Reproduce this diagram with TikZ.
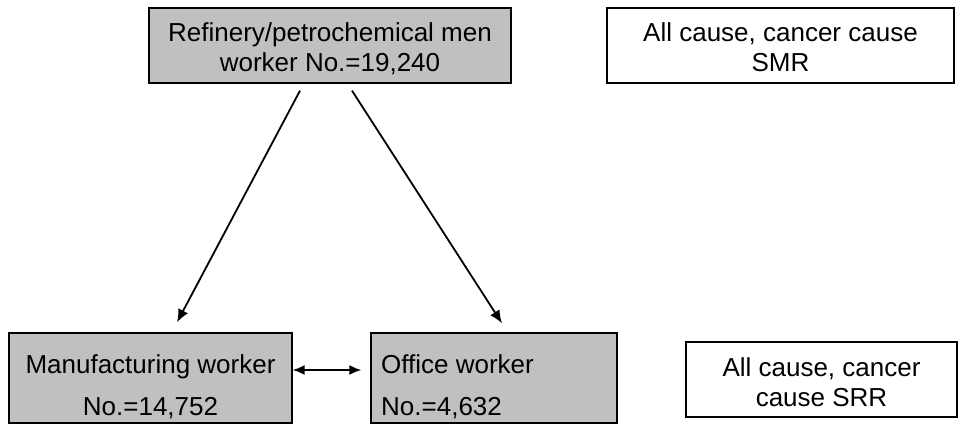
\documentclass[tikz,border=0pt]{standalone}
\usepackage{fontspec}
\setmainfont{Liberation Sans}
\usetikzlibrary{arrows.meta}
\definecolor{boxgrey}{HTML}{C0C0C0}
\begin{document}
\begin{tikzpicture}[x=1pt,y=-1pt,
  box/.style={draw=black,line width=1.3pt,rectangle,inner sep=0pt},
  greybox/.style={box,fill=boxgrey},
  txt/.style={inner sep=0pt,anchor=base,font=\fontsize{26}{30}\selectfont},
  ltxt/.style={txt,anchor=base west},
  arr/.style={line width=1.8pt,-{Latex[length=13pt,width=11pt]}},
  darr/.style={line width=1.8pt,{Latex[length=12pt,width=10pt]}-{Latex[length=12pt,width=10pt]}}]
\useasboundingbox (0,0) rectangle (959,425);
% boxes
\node[greybox,minimum width=362pt,minimum height=75pt] (top) at (330,45.5) {};
\node[box,minimum width=347pt,minimum height=75pt] (smr) at (780.5,45.5) {};
\node[greybox,minimum width=283pt,minimum height=90pt] (manu) at (150.5,378) {};
\node[greybox,minimum width=246pt,minimum height=90pt] (office) at (494,378) {};
\node[box,minimum width=271pt,minimum height=75pt] (srr) at (821.5,379.5) {};
% texts
\node[txt] (top1) at (330,42) {Refinery/petrochemical men};
\node[txt] (top2) at (330,72) {worker No.=19,240};
\node[txt] (smr1) at (780.5,42) {All cause, cancer cause};
\node[txt] (smr2) at (780.5,72) {SMR};
\node[txt] (manu1) at (150.5,373) {Manufacturing worker};
\node[txt] (manu2) at (150.5,415) {No.=14,752};
\node[ltxt] (off1) at (381,373) {Office worker};
\node[ltxt] (off2) at (381,415) {No.=4,632};
\node[txt] (srr1) at (821.5,376) {All cause, cancer};
\node[txt] (srr2) at (821.5,406) {cause SRR};
% connectors
\draw[arr] ([xshift=-30pt,yshift=-7pt]top.south) -- ([xshift=26.5pt,yshift=10pt]manu.north);
\draw[arr] ([xshift=22pt,yshift=-7pt]top.south) -- ([xshift=8pt,yshift=9pt]office.north);
\draw[darr] ([yshift=8pt]manu.east) -- ([xshift=-9pt,yshift=8pt]office.west);
\end{tikzpicture}
\end{document}
